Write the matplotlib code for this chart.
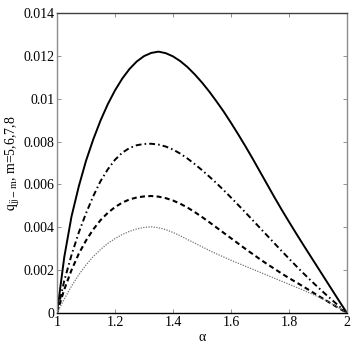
import matplotlib
matplotlib.use("Agg")
import matplotlib.pyplot as plt

# values (alpha step 0.025)
alpha = [1.000, 1.025, 1.050, 1.075, 1.100, 1.125, 1.150, 1.175, 1.200, 1.225,
         1.250, 1.275, 1.300, 1.325, 1.350, 1.375, 1.400, 1.425, 1.450, 1.475,
         1.500, 1.525, 1.550, 1.575, 1.600, 1.625, 1.650, 1.675, 1.700, 1.725,
         1.750, 1.775, 1.800, 1.825, 1.850, 1.875, 1.900, 1.925, 1.950, 1.975, 2.000]
# in units of 1e-4
q_m5 = [0, 26, 45, 59, 71, 81, 89.8, 97.4, 103.9, 109.4,
        113.9, 117.4, 119.9, 121.4, 122.0, 121.3, 119.8, 117.6, 114.8, 111.4,
        107.6, 103.4, 98.8, 94.0, 88.8, 83.4, 77.8, 72.0, 66.0, 60.0,
        54.0, 48.2, 42.6, 37.1, 31.7, 26.4, 21.1, 15.8, 10.5, 5.2, 0]
q_m6 = [0, 15, 27, 37.5, 46.5, 54.5, 61.5, 67.0, 71.5, 74.8,
        77.0, 78.3, 78.9, 79.0, 78.6, 77.7, 76.3, 74.4, 72.1, 69.5,
        66.7, 63.7, 60.6, 57.3, 53.9, 50.4, 46.9, 43.3, 39.7, 36.1,
        32.5, 28.9, 25.4, 21.9, 18.5, 15.2, 12.0, 8.9, 5.9, 2.9, 0]
q_m7 = [0, 10.9, 20.0, 27.6, 33.8, 39.0, 43.3, 46.7, 49.4, 51.5,
        53.0, 53.9, 54.4, 54.6, 54.3, 53.6, 52.5, 51.0, 49.2, 47.1,
        44.8, 42.4, 39.9, 37.4, 34.9, 32.4, 29.9, 27.5, 25.1, 22.8,
        20.6, 18.4, 16.3, 14.3, 12.3, 10.2, 8.1, 6.1, 4.0, 2.0, 0]
q_m8 = [0, 6.5, 12.5, 17.8, 22.4, 26.3, 29.6, 32.4, 34.7, 36.6,
        38.1, 39.2, 39.9, 40.2, 39.8, 38.9, 37.6, 36.0, 34.3, 32.6,
        30.9, 29.2, 27.6, 26.1, 24.6, 23.2, 21.8, 20.4, 19.0, 17.6,
        16.2, 14.8, 13.4, 12.0, 10.6, 9.1, 7.6, 6.0, 4.1, 2.1, 0]
scale = 1e-4

xticks = [1, 1.2, 1.4, 1.6, 1.8, 2]
xticklabels = ["1", "1.2", "1.4", "1.6", "1.8", "2"]
yticks = [0, 0.002, 0.004, 0.006, 0.008, 0.01, 0.012, 0.014]
yticklabels = ["0", "0.002", "0.004", "0.006", "0.008", "0.01", "0.012", "0.014"]

plt.rcParams["font.family"] = "serif"
plt.rcParams["font.serif"] = ["Liberation Serif", "DejaVu Serif"]
plt.rcParams["mathtext.fontset"] = "stix"

fig = plt.figure(figsize=(3.54, 3.54), dpi=100)
ax = fig.add_axes([0.161, 0.116, 0.819, 0.847])

ax.plot(alpha, [v * scale for v in q_m5], color="black", lw=1.4, ls="-")
ax.plot(alpha, [v * scale for v in q_m6], color="black", lw=1.4, ls=(0, (3, 1.6, 0.8, 1.6)))
ax.plot(alpha, [v * scale for v in q_m7], color="black", lw=1.5, ls=(0, (2.4, 1.6)))
ax.plot(alpha, [v * scale for v in q_m8], color="0.45", lw=0.9, ls=(0, (1, 1.1)))

ax.set_xlim(1, 2)
ax.set_ylim(0, 0.014)
ax.set_xticks(xticks)
ax.set_xticklabels(xticklabels)
ax.set_yticks(yticks)
ax.set_yticklabels(yticklabels)
ax.tick_params(direction="in", top=True, right=True, length=3, width=0.6,
               labelsize=10, color="0.5", pad=2)

ax.spines["left"].set_color("0.55")
ax.spines["right"].set_color("0.55")
ax.spines["top"].set_color("0.25")
ax.spines["bottom"].set_color("black")
for s in ax.spines.values():
    s.set_linewidth(1.0)

ax.set_xlabel("α", fontsize=10, labelpad=2)
ax.set_ylabel(r"$\mathrm{q_{jj-m}}$, m=5,6,7,8", fontsize=10, labelpad=1)

fig.savefig("out.png", dpi=100)
